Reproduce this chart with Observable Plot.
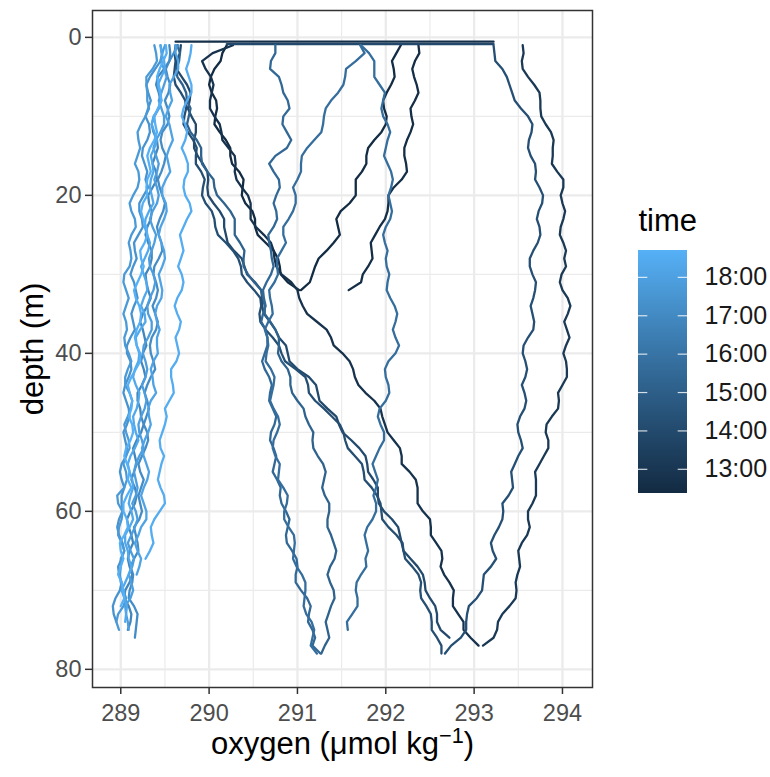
<!DOCTYPE html>
<html><head><meta charset="utf-8">
<script src="https://cdn.jsdelivr.net/npm/d3@7"></script>
<script src="https://cdn.jsdelivr.net/npm/@observablehq/plot@0.6"></script>
<style>
body{margin:0;background:#fff;font-family:"Liberation Sans",Arial,sans-serif;}
#wrap{position:relative;width:770px;height:777px;background:#fff;}
#main{position:absolute;left:0;top:0;}
#legend{position:absolute;left:600px;top:180px;}
</style></head><body><div id="wrap"><div id="main"></div><div id="legend"></div></div>
<script>
// ---- data: oxygen (umol/kg) read at each depth level (m) for each cast ----
const depths = [1,2,3,4,5,6,7,8,9,10,11,12,13,14,15,16,17,18,19,20,21,22,23,24,25,26,27,28,29,30,31,32,33,34,35,36,37,38,39,40,41,42,43,44,45,46,47,48,49,50,51,52,53,54,55,56,57,58,59,60,61,62,63,64,65,66,67,68,69,70,71,72,73,74,75,76,77,78];

const oxD1down = [290.20,290.15,290.13,290.06,290.02,290.00,290.03,290.08,290.09,290.07,290.06,290.12,290.19,290.24,290.24,290.26,290.34,290.39,290.38,290.37,290.41,290.49,290.52,290.52,290.55,290.64,290.73,290.78,290.80,290.81,290.89,291.02];
const oxD1up = [292.17,292.12,292.07,292.09,292.10,292.06,292.01,291.97,291.98,292.01,292.00,291.95,291.87,291.80,291.78,291.78,291.73,291.66,291.66,291.66,291.59,291.49,291.44,291.46,291.48,291.41,291.33,291.24,291.20,291.17,291.14,291.04];
const oxD2 = [292.37,292.38,292.33,292.30,292.32,292.35,292.37,292.33,292.28,292.29,292.31,292.28,292.24,292.21,292.21,292.23,292.24,292.18,292.09,292.03,292.03,292.02,291.99,291.93,291.88,291.83,291.84,291.85,291.80,291.74,291.72,291.58];
const oxVA = [290.27,290.04,289.92,289.96,290.02,290.05,290.03,290.01,290.01,290.06,290.12,290.14,290.15,290.22,290.29,290.30,290.29,290.31,290.37,290.44,290.47,290.47,290.47,290.53,290.62,290.70,290.73,290.74,290.76,290.82,290.93,291.00,291.02,291.06,291.11,291.22,291.33,291.38,291.41,291.51,291.59,291.63,291.65,291.69,291.77,291.87,291.94,291.96,291.99,292.02,292.09,292.16,292.18,292.18,292.27,292.34,292.36,292.36,292.36,292.42,292.50,292.51,292.51,292.57,292.63,292.64,292.62,292.66,292.72,292.77,292.76,292.76,292.82,292.88,292.88,292.96,293.05];
const oxR2 = [293.55,293.56,293.54,293.55,293.61,293.68,293.74,293.75,293.75,293.76,293.81,293.87,293.90,293.89,293.89,293.88,293.94,294.01,294.01,293.98,294.00,294.03,294.01,293.98,293.97,294.01,294.04,294.02,294.04,293.99,293.97,294.00,294.06,294.09,294.06,294.02,294.05,294.08,294.04,294.01,294.04,294.05,294.05,294.00,293.95,293.96,293.95,293.88,293.82,293.81,293.84,293.84,293.79,293.74,293.69,293.70,293.70,293.70,293.66,293.61,293.61,293.63,293.60,293.54,293.50,293.51,293.52,293.49,293.47,293.48,293.47,293.40,293.32,293.27,293.26,293.22,293.10];
const oxSurfaceA = [289.62,293.22];
const depthSurfaceA = [0.55,0.55];
const oxSurfaceB = [290.20,293.22];
const depthSurfaceB = [0.85,0.85];
const oxVC = [289.68,289.67,289.63,289.63,289.69,289.75,289.79,289.78,289.76,289.80,289.85,289.85,289.83,289.83,289.87,289.93,289.98,289.99,289.98,289.99,290.05,290.12,290.17,290.17,290.19,290.21,290.28,290.37,290.40,290.43,290.52,290.59,290.60,290.60,290.62,290.69,290.75,290.79,290.87,290.89,290.91,291.00,291.13,291.21,291.23,291.25,291.34,291.44,291.47,291.51,291.61,291.70,291.77,291.79,291.80,291.86,291.91,291.91,291.92,291.98,292.07,292.14,292.16,292.18,292.20,292.28,292.36,292.42,292.44,292.45,292.50,292.56,292.58,292.58,292.62,292.72];
const oxVB = [289.62,289.61,289.62,289.61,289.60,289.62,289.68,289.73,289.74,289.72,289.71,289.76,289.82,289.86,289.85,289.85,289.91,289.95,289.93,289.92,289.96,290.03,290.06,290.07,290.10,290.19,290.27,290.33,290.36,290.37,290.43,290.51,290.58,290.59,290.57,290.58,290.64,290.72,290.79,290.82,290.86,290.98,291.09,291.12,291.13,291.20,291.30,291.39,291.48,291.52,291.54,291.57,291.65,291.73,291.75,291.76,291.84,291.90,291.94,291.95,291.96,292.03,292.12,292.19,292.20,292.22,292.30,292.37,292.40,292.39,292.40,292.46,292.51,292.52,292.52,292.58,292.63,292.63];
const oxR1 = [293.22,293.23,293.24,293.32,293.37,293.40,293.43,293.46,293.53,293.61,293.66,293.65,293.62,293.61,293.64,293.69,293.70,293.69,293.74,293.78,293.77,293.73,293.71,293.74,293.75,293.72,293.67,293.63,293.63,293.66,293.70,293.69,293.67,293.64,293.66,293.68,293.67,293.61,293.56,293.55,293.58,293.60,293.58,293.54,293.57,293.59,293.57,293.52,293.49,293.50,293.53,293.55,293.50,293.46,293.42,293.43,293.44,293.39,293.32,293.33,293.32,293.28,293.23,293.19,293.21,293.25,293.19,293.11,293.10,293.09,293.03,292.94,292.92,292.91,292.91,292.85,292.74,292.67];
const oxC6 = [289.64,289.67,289.66,289.63,289.64,289.70,289.74,289.75,289.79,289.77,289.75,289.79,289.86,289.91,289.91,289.92,289.98,290.05,290.06,290.09,290.17,290.24,290.29,290.29,290.29,290.35,290.40,290.39,290.39,290.44,290.51,290.59,290.61,290.63,290.63,290.69,290.75,290.79,290.79,290.78,290.82,290.89,290.92,290.92,290.94,291.00,291.07,291.09,291.13,291.18,291.17,291.18,291.23,291.29,291.32,291.30,291.28,291.31,291.36,291.36,291.34,291.34,291.38,291.41,291.44,291.42,291.37,291.34,291.37,291.41,291.42,291.38,291.35,291.32,291.34,291.36,291.31,291.27];
const oxM1 = [290.75,290.75,290.70,290.69,290.79,290.82,290.84,290.89,290.91,290.84,290.83,290.88,290.93,290.88,290.75,290.68,290.73,290.79,290.80,290.76,290.73,290.76,290.77,290.73,290.67,290.68,290.70,290.71,290.73,290.70,290.65,290.61,290.62,290.64,290.61,290.59,290.64,290.66,290.66,290.63,290.60,290.63,290.68,290.71,290.69,290.68,290.72,290.76,290.74,290.70,290.69,290.73,290.76,290.74,290.72,290.77,290.81,290.80,290.82,290.87,290.91,290.89,290.87,290.88,290.94,290.99,291.00,290.98,290.98,291.04,291.11,291.15,291.13,291.12,291.17,291.20,291.17,291.26];
const oxM2left = [291.71,291.76,291.66,291.55,291.54,291.52,291.46,291.38,291.32,291.30,291.29,291.27,291.19,291.11,291.05,291.04,291.04,291.00,290.95,290.98,290.98,290.95,290.90,290.84,290.84,290.87,290.82,290.77,290.77,290.78,290.74,290.68,290.69,290.71,290.72,290.67,290.63,290.66,290.67,290.65,290.64,290.70,290.74,290.73,290.71,290.69,290.73,290.78,290.80,290.77,290.73,290.72,290.75,290.80,290.79,290.78,290.84,290.89,290.88,290.85,290.85,290.90,290.96,290.97,290.96,290.95,290.99,291.05,291.09,291.09,291.08,291.07,291.10,291.16,291.19,291.17,291.15,291.22];
const oxM2right = [291.72,291.81,291.87,291.87,291.87,291.93,291.99,291.97,291.95,291.97,292.02,292.05,292.02,292.00,291.98,292.02,292.06,292.08,292.06,292.03,292.05,292.07,292.05,292.00,291.97,291.99,292.02,292.00,292.01,292.04,292.02,292.01,292.05,292.10,292.13,292.11,292.08,292.11,292.15,292.11,292.03,291.99,292.00,292.03,292.04,292.00,291.93,291.91,291.94,291.98,291.98,291.93,291.89,291.85,291.88,291.91,291.89,291.86,291.89,291.89,291.85,291.79,291.76,291.78,291.80,291.77,291.78,291.72,291.67,291.66,291.68,291.68,291.62,291.56,291.57];
const oxL1 = [289.55,289.56,289.55,289.49,289.42,289.40,289.43,289.45,289.43,289.38,289.35,289.37,289.41,289.42,289.39,289.36,289.40,289.41,289.36,289.31,289.32,289.35,289.34,289.30,289.28,289.31,289.35,289.35,289.33,289.28,289.29,289.31,289.34,289.30,289.25,289.22,289.25,289.27,289.29,289.25,289.23,289.26,289.28,289.24,289.19,289.19,289.22,289.23,289.26,289.23,289.18,289.14,289.16,289.18,289.15,289.12,289.16,289.18,289.16,289.11,289.07,289.09,289.12,289.14,289.10,289.08,289.10,289.13,289.10,289.05,289.04,289.09,289.12,289.11,289.08];
const oxL2 = [289.65,289.60,289.55,289.51,289.53,289.56,289.54,289.50,289.53,289.55,289.53,289.47,289.45,289.47,289.51,289.49,289.46,289.42,289.44,289.47,289.50,289.48,289.44,289.41,289.43,289.46,289.47,289.43,289.38,289.37,289.40,289.42,289.40,289.36,289.39,289.42,289.40,289.35,289.33,289.34,289.37,289.39,289.34,289.30,289.27,289.30,289.32,289.29,289.26,289.30,289.31,289.28,289.24,289.20,289.22,289.26,289.23,289.20,289.22,289.24,289.21,289.15,289.17,289.19,289.20,289.15,289.11,289.14,289.13,289.10,289.09,289.15,289.19,289.18,289.17,289.16];
const oxL3 = [289.45,289.47,289.45,289.39,289.33,289.29,289.31,289.34,289.31,289.28,289.32,289.33,289.30,289.25,289.24,289.27,289.30,289.28,289.31,289.26,289.21,289.21,289.24,289.25,289.20,289.15,289.16,289.18,289.14,289.11,289.15,289.17,289.19,289.15,289.12,289.14,289.16,289.11,289.07,289.07,289.11,289.12,289.09,289.05,289.03,289.06,289.09,289.10,289.07,289.03,289.05,289.07,289.06,289.01,288.99,289.01,289.04,289.01,289.01,289.02,288.98,288.96,288.98,289.02,289.04,289.01,288.97,288.98,289.01,288.99,288.94,288.91,288.92,288.95];
const oxL4 = [289.38,289.40,289.41,289.36,289.29,289.29,289.30,289.30,289.32,289.28,289.23,289.19,289.20,289.22,289.19,289.16,289.20,289.21,289.19,289.14,289.10,289.12,289.16,289.17,289.12,289.09,289.11,289.12,289.10,289.04,289.03,289.06,289.09,289.06,289.03,289.06,289.07,289.04,289.05,289.09,289.12,289.08,289.05,289.05,289.10,289.13,289.11,289.08,289.04,289.06,289.09,289.10,289.06,289.03,289.06,289.07,289.04,288.96,288.97,289.02,289.01,288.98,288.97,289.01,289.04,289.00,289.00,288.99,289.00,289.03,289.06,289.03,288.97,288.95,288.98];
const oxL5 = [289.50,289.47,289.45,289.49,289.52,289.49,289.46,289.43,289.46,289.49,289.49,289.45,289.40,289.37,289.40,289.43,289.41,289.38,289.41,289.43,289.41,289.36,289.33,289.36,289.40,289.38,289.35,289.32,289.33,289.37,289.39,289.37,289.33,289.30,289.31,289.35,289.35,289.31,289.26,289.25,289.28,289.30,289.28,289.24,289.27,289.29,289.27,289.23,289.20,289.21,289.24,289.26,289.21,289.17,289.15,289.17,289.19,289.17,289.13,289.17,289.19,289.16,289.12,289.08,289.11,289.15,289.13,289.09,289.12,289.14,289.11,289.05,289.06,289.08,289.09];
const oxL6 = [289.62,289.62,289.65,289.65,289.60,289.55,289.56,289.58,289.54,289.51,289.55,289.57,289.59,289.55,289.52,289.54,289.56,289.51,289.47,289.47,289.51,289.52,289.49,289.45,289.43,289.46,289.49,289.50,289.47,289.43,289.45,289.47,289.46,289.41,289.39,289.41,289.44,289.41,289.41,289.42,289.37,289.34,289.36,289.37,289.40,289.34,289.31,289.32,289.34,289.31,289.27,289.24,289.26,289.29,289.32,289.30,289.26,289.23,289.26,289.29,289.29,289.23,289.20,289.16,289.19,289.23,289.21,289.18];
const oxL7 = [289.45,289.46,289.49,289.50,289.46,289.42,289.44,289.46,289.43,289.37,289.35,289.38,289.41,289.38,289.34,289.36,289.37,289.34,289.33,289.35,289.37,289.32,289.28,289.27,289.30,289.33,289.31,289.27,289.23,289.26,289.29,289.30,289.26,289.23,289.27,289.28,289.22,289.17,289.18,289.21,289.20,289.16,289.14,289.17,289.21,289.20,289.18,289.14,289.15,289.17,289.20,289.16,289.11,289.08,289.10,289.13,289.14,289.11,289.09,289.12,289.14,289.10,289.05,289.05,289.08,289.09,289.12,289.09,289.05,289.01,289.04,289.07,289.06,289.05];
const oxL8 = [289.80,289.79,289.77,289.74,289.77,289.80,289.80,289.75,289.71,289.69,289.73,289.75,289.73,289.69,289.73,289.76,289.76,289.72,289.71,289.73,289.78,289.80,289.75,289.71,289.67,289.69,289.71,289.68,289.65,289.69,289.71,289.69,289.64,289.61,289.64,289.68,289.66,289.62,289.64,289.66,289.63,289.57,289.57,289.59,289.60,289.55,289.50,289.52,289.50,289.47,289.44,289.45,289.49,289.46,289.44,289.42,289.45,289.49,289.50,289.44,289.38,289.34,289.35,289.37,289.33,289.28];
const oxL9 = [289.51,289.52,289.48,289.44,289.41,289.43,289.45,289.46,289.42,289.38,289.39,289.41,289.38,289.33,289.30,289.32,289.34,289.30,289.29,289.30,289.25,289.23,289.25,289.29,289.30,289.27,289.22,289.23,289.26,289.23,289.19,289.15,289.17,289.21,289.23,289.22,289.18,289.16,289.18,289.22,289.22,289.17,289.12,289.08,289.10,289.13,289.12,289.09,289.13,289.14,289.11,289.06,289.04,289.07,289.10,289.08,289.12,289.07,289.03,289.03,289.07,289.08,289.04,288.99,289.00,289.03,289.00,288.97,289.01,289.03,289.04,289.00];

// casts in drawing order, with their time (decimal hours)
const castNames = ["D1down","D1up","D2","surfaceA","VA","R2","surfaceB","VC","VB","R1","C6","M1","M2left","M2right","L1","L2","L3","L4","L5","L6","L7","L8","L9"];
const castTimes = [12.40,12.40,12.55,12.60,12.75,13.10,13.90,14.00,14.20,14.25,15.20,15.45,15.70,15.70,16.80,17.10,17.40,17.70,17.90,18.10,18.30,18.50,18.65];
const castOxygen = [oxD1down,oxD1up,oxD2,oxSurfaceA,oxVA,oxR2,oxSurfaceB,oxVC,oxVB,oxR1,oxC6,oxM1,oxM2left,oxM2right,oxL1,oxL2,oxL3,oxL4,oxL5,oxL6,oxL7,oxL8,oxL9];
const castDepths = {surfaceA: depthSurfaceA, surfaceB: depthSurfaceB};

const xTicks = [289,290,291,292,293,294];
const xMinor = [289.5,290.5,291.5,292.5,293.5];
const yTicks = [0,20,40,60,80];
const yMinor = [10,30,50,70];
const legendTicks = [13,14,15,16,17,18];
const legendLabels = ["13:00","14:00","15:00","16:00","17:00","18:00"];
const timeDomain = [12.37,18.70];
const colorRange = ["#132B43","#56B1F7"];
const xTitle = "oxygen (μmol kg";
const yTitle = "depth (m)";
const legendTitle = "time";

// ---- build table ----
const rows = [];
castNames.forEach((name, i) => {
  const dp = castDepths[name] || depths;
  castOxygen[i].forEach((o, j) => rows.push({cast: name, time: castTimes[i], oxygen: o, depth: dp[j]}));
});

const colorScale = {type: "linear", domain: timeDomain, range: colorRange, interpolate: d3.interpolateLab};
const font = "Liberation Sans, Arial, sans-serif";

const main = Plot.plot({
  width: 600, height: 777,
  marginLeft: 92, marginRight: 8, marginTop: 10, marginBottom: 90,
  x: {domain: [288.68, 294.34]},
  y: {domain: [82.3, -3.4]},
  color: colorScale,
  style: {fontFamily: font, fontSize: "23.5px", background: "white", overflow: "visible"},
  marks: [
    Plot.gridX(xMinor, {stroke: "#ebebeb", strokeOpacity: 1, strokeWidth: 1.2}),
    Plot.gridY(yMinor, {stroke: "#ebebeb", strokeOpacity: 1, strokeWidth: 1.2}),
    Plot.gridX(xTicks, {stroke: "#ebebeb", strokeOpacity: 1, strokeWidth: 2.3}),
    Plot.gridY(yTicks, {stroke: "#ebebeb", strokeOpacity: 1, strokeWidth: 2.3}),
    Plot.line(rows, {x: "oxygen", y: "depth", z: "cast", stroke: "time", strokeWidth: 2.3, strokeLinejoin: "round"}),
    Plot.frame({stroke: "#333", strokeWidth: 1.5}),
    Plot.axisX(xTicks, {tickSize: 7, tickPadding: 10, stroke: "#333", strokeWidth: 1.5, fill: "#4d4d4d", label: null}),
    Plot.axisY(yTicks, {tickSize: 7, tickPadding: 4, stroke: "#333", strokeWidth: 1.5, fill: "#4d4d4d", label: null}),
    Plot.text([xTitle], {frameAnchor: "bottom", dy: 66, fontSize: 31, fill: "black"}),
    Plot.text([yTitle], {frameAnchor: "left", dx: -59, rotate: -90, textAnchor: "middle", fontSize: 31, fill: "black"})
  ]
});
// superscript for the unit
d3.select(main).selectAll("text").filter(function(){ return this.textContent === xTitle; }).each(function(){
  const t = d3.select(this);
  t.append("tspan").attr("dy", "-0.5em").attr("font-size", "0.7em").text("−1");
  t.append("tspan").attr("dy", "0.35em").attr("font-size", "31px").text(")");
});
document.getElementById("main").appendChild(main);

const legendBins = d3.range(timeDomain[0], timeDomain[1], 0.02);
const legend = Plot.plot({
  width: 170, height: 340,
  marginLeft: 38, marginRight: 83, marginTop: 70, marginBottom: 27,
  x: {domain: [0, 1], axis: null},
  y: {domain: timeDomain},
  color: colorScale,
  style: {fontFamily: font, fontSize: "25px", background: "transparent", overflow: "visible"},
  marks: [
    Plot.rect(legendBins, {x1: 0, x2: 1, y1: d => d, y2: d => Math.min(d + 0.04, timeDomain[1]), fill: d => d, shapeRendering: "crispEdges"}),
    Plot.ruleY(legendTicks, {x1: 0, x2: 0.19, stroke: "white", strokeOpacity: 0.8, strokeWidth: 1.2}),
    Plot.ruleY(legendTicks, {x1: 0.81, x2: 1, stroke: "white", strokeOpacity: 0.8, strokeWidth: 1.2}),
    Plot.axisY(legendTicks, {anchor: "right", tickSize: 0, tickPadding: 17, fill: "#1a1a1a", label: null,
      tickFormat: d => legendLabels[legendTicks.indexOf(d)]}),
    Plot.text([legendTitle], {frameAnchor: "top-left", dy: -42, textAnchor: "start", fontSize: 31, fill: "black"})
  ]
});
document.getElementById("legend").appendChild(legend);
</script></body></html>
